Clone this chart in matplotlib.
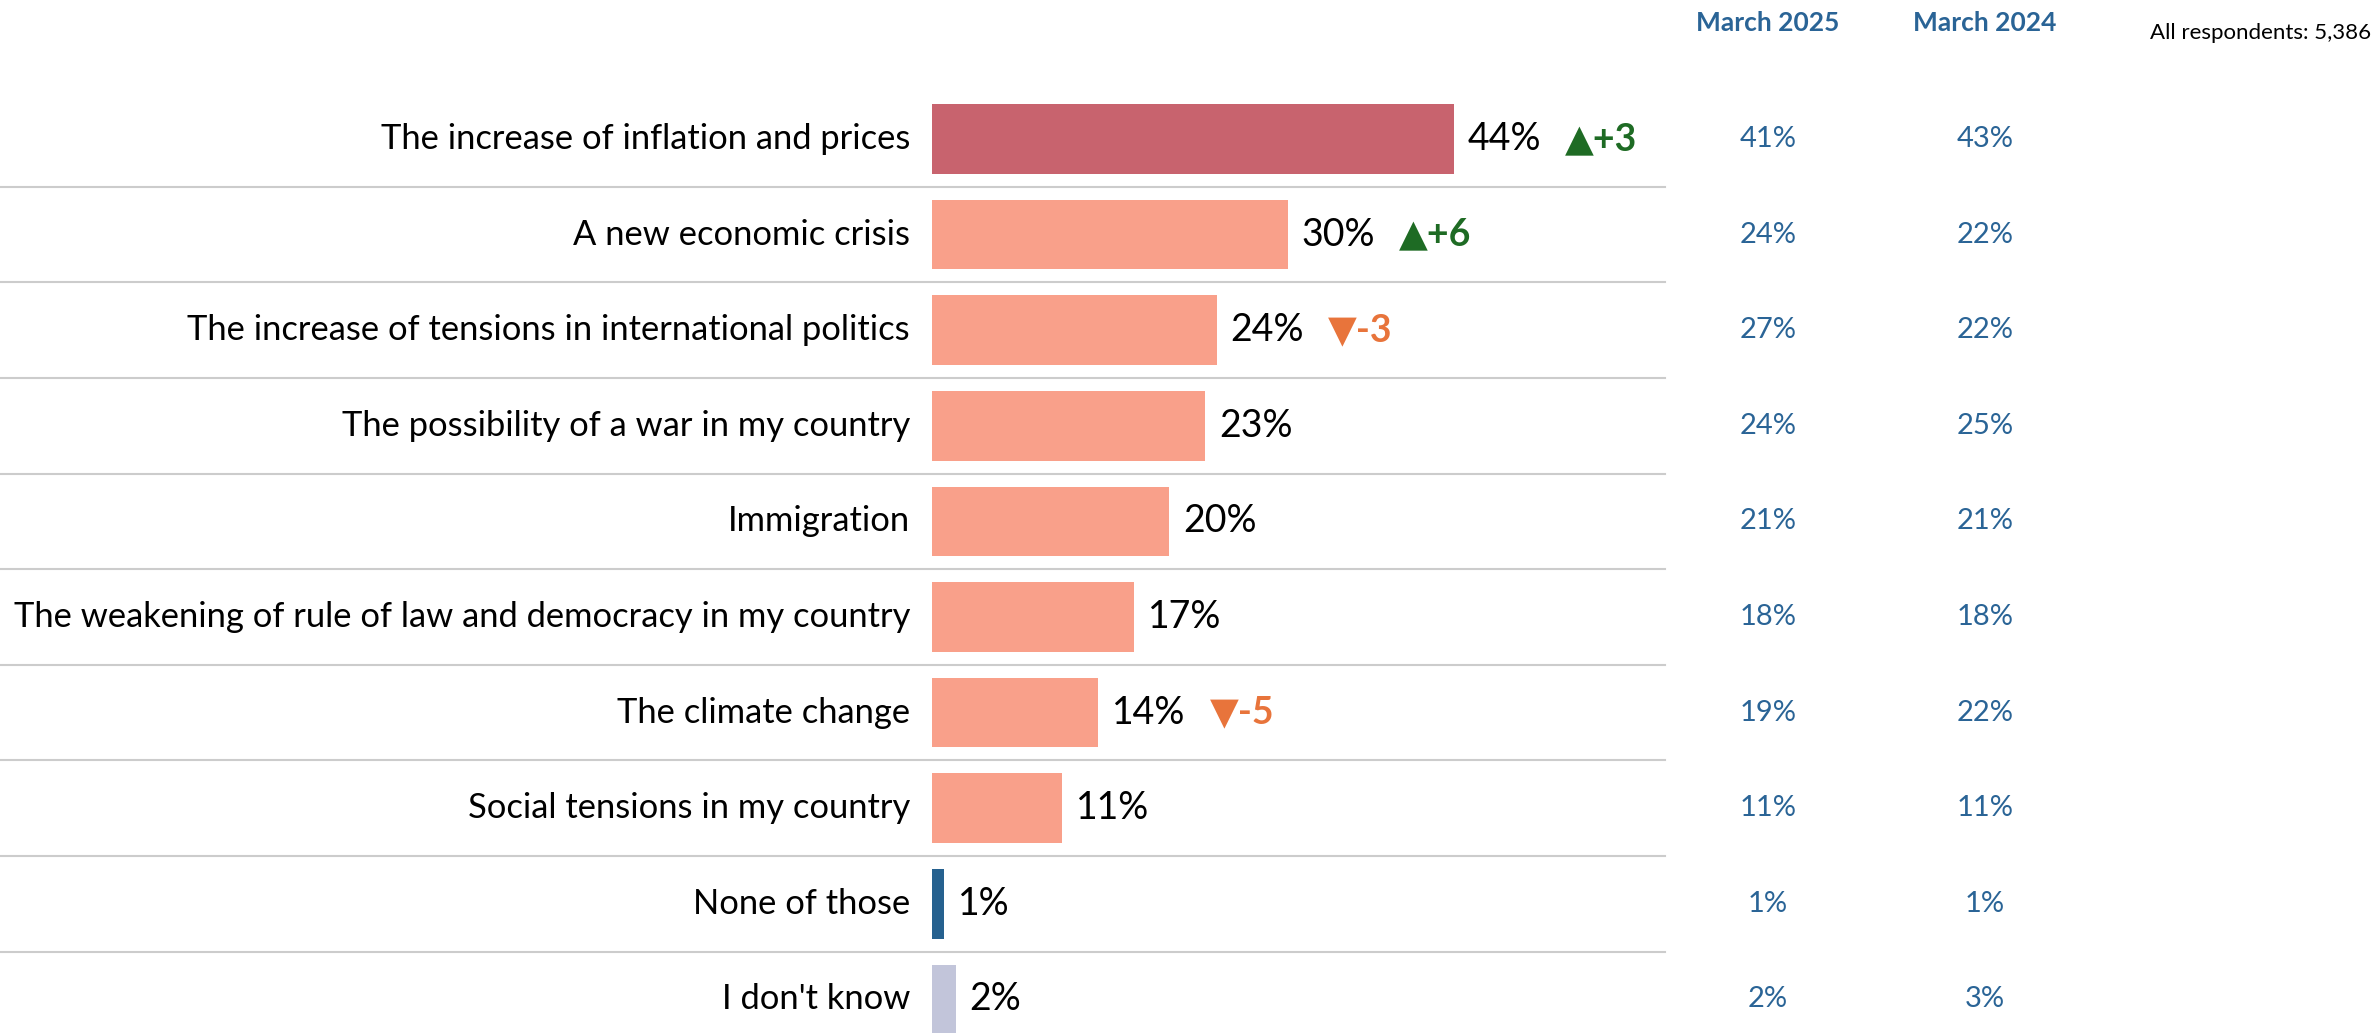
import matplotlib
matplotlib.use("Agg")
import matplotlib.pyplot as plt
from matplotlib.transforms import blended_transform_factory

# data
categories = ["The increase of inflation and prices",
              "A new economic crisis",
              "The increase of tensions in international politics",
              "The possibility of a war in my country",
              "Immigration",
              "The weakening of rule of law and democracy in my country",
              "The climate change",
              "Social tensions in my country",
              "None of those",
              "I don't know"]
current = [44, 30, 24, 23, 20, 17, 14, 11, 1, 2]
march_2025 = [41, 24, 27, 24, 21, 18, 19, 11, 1, 2]
march_2024 = [43, 22, 22, 25, 21, 18, 22, 11, 1, 3]
deltas = [3, 6, -3, None, None, None, -5, None, None, None]
bar_colors = ["#c8636e"] + ["#f9a08a"] * 7 + ["#26618f", "#c2c5da"]
column_titles = ["March 2025", "March 2024"]
base_note = "All respondents: 5,386"

FONT = ["Lato", "DejaVu Sans"]
plt.rcParams["font.family"] = FONT
BLUE = "#2a6496"

W, H, DPI = 2374, 1033, 100
fig = plt.figure(figsize=(W / DPI, H / DPI), dpi=DPI)

# pixel layout of the reference
x0_px, px_per_pct = 932, 11.86
row0_px, pitch_px = 139, 95.6
ax = fig.add_axes([x0_px / W, 0, 1 - x0_px / W, 1])
ax.set_xlim(0, (W - x0_px) / px_per_pct)
ax.set_ylim(9 + (H - row0_px - 9 * pitch_px) / pitch_px, -row0_px / pitch_px)
ax.axis("off")

ys = list(range(len(categories)))
ax.barh(ys, current, height=0.73, color=bar_colors)

# separators between rows
sep_tr = blended_transform_factory(fig.transFigure, ax.transData)
for i in ys[:-1]:
    ax.plot([0, 1665 / W], [i + 0.5, i + 0.5], color="#cccccc", lw=1.5,
            transform=sep_tr, clip_on=False)

col_x = [1768 / W, 1985 / W]
for i, cat in enumerate(categories):
    ax.annotate(cat, xy=(0, i), xytext=(-22, 0), textcoords="offset pixels",
                ha="right", va="center", fontsize=24.8, color="black")
    t = ax.annotate(f"{current[i]}%", xy=(current[i], i), xytext=(14, 0),
                    textcoords="offset pixels", ha="left", va="center",
                    fontsize=27, color="black")
    d = deltas[i]
    if d is not None:
        if d > 0:
            sym, col = "\u25b2", "#1e6b24"
        else:
            sym, col = "\u25bc", "#e8743b"
        ax.annotate(f"{sym}{d:+d}", xy=(1, 0.5), xycoords=t, xytext=(24, 0),
                    textcoords="offset pixels", ha="left", va="center",
                    fontsize=27, fontweight="bold", color=col)
    ax.text(col_x[0], i, f"{march_2025[i]}%", transform=sep_tr, ha="center",
            va="center", fontsize=21, color=BLUE)
    ax.text(col_x[1], i, f"{march_2024[i]}%", transform=sep_tr, ha="center",
            va="center", fontsize=21, color=BLUE)

for cx, title in zip(col_x, column_titles):
    fig.text(cx, 1 - 23 / H, title, ha="center", va="center", fontsize=19,
             fontweight="bold", color=BLUE)
fig.text(2371 / W, 1 - 33 / H, base_note, ha="right", va="center",
         fontsize=16, color="black")

fig.savefig("out.png", dpi=DPI)
